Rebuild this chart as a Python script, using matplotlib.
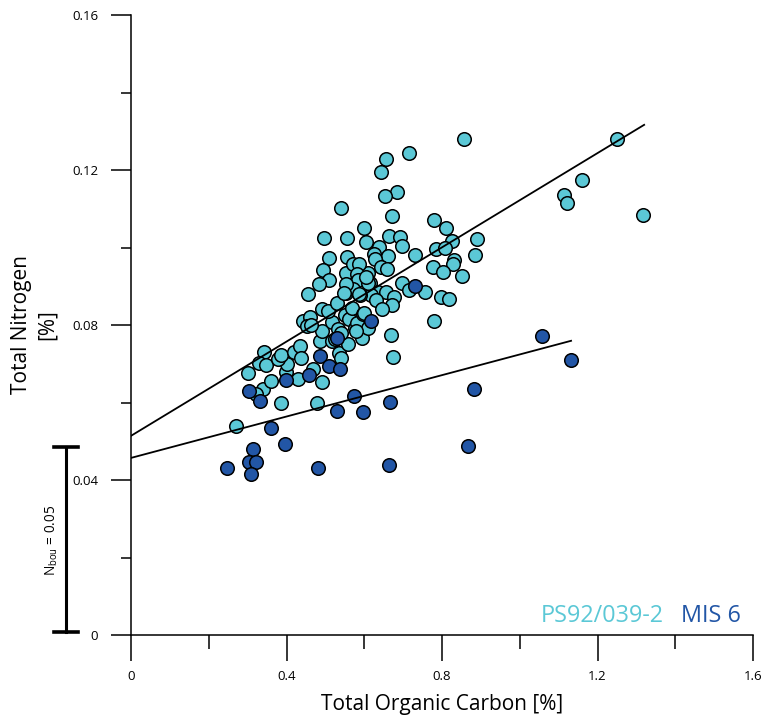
import numpy as np
import matplotlib
matplotlib.use('Agg')
from matplotlib import pyplot as plt
from matplotlib.ticker import MultipleLocator

# PS92/039-2 samples (TOC %, TN %)
ps92_toc = [1.250, 1.160, 1.114, 1.121, 1.317, 0.857, 0.715, 0.656, 0.643, 0.684,
            0.653, 0.671, 0.779, 0.810, 0.540, 0.600, 0.496, 0.556, 0.604, 0.664,
            0.692, 0.697, 0.638, 0.890, 0.826, 0.785, 0.808, 0.885, 0.731, 0.625,
            0.661, 0.628, 0.831, 0.828, 0.777, 0.803, 0.643, 0.659, 0.851, 0.610,
            0.615, 0.697, 0.715, 0.756, 0.797, 0.818, 0.635, 0.656, 0.677, 0.617,
            0.509, 0.556, 0.494, 0.509, 0.484, 0.455, 0.553, 0.571, 0.586, 0.581,
            0.584, 0.553, 0.571, 0.589, 0.609, 0.604, 0.553, 0.630, 0.671, 0.646,
            0.779, 0.669, 0.674, 0.270, 0.386, 0.478, 0.301, 0.340, 0.322, 0.360,
            0.430, 0.399, 0.401, 0.468, 0.491, 0.535, 0.540, 0.558, 0.342, 0.329,
            0.347, 0.378, 0.386, 0.419, 0.435, 0.437, 0.486, 0.491, 0.517, 0.442,
            0.460, 0.453, 0.491, 0.507, 0.530, 0.548, 0.550, 0.561, 0.569, 0.576,
            0.594, 0.581, 0.597, 0.532, 0.540, 0.517, 0.463, 0.610, 0.525, 0.579,
            0.586, 0.599]
ps92_tn = [0.1280, 0.1174, 0.1135, 0.1115, 0.1084, 0.1280, 0.1244, 0.1228, 0.1195, 0.1143,
           0.1133, 0.1081, 0.1071, 0.1050, 0.1102, 0.1050, 0.1025, 0.1025, 0.1014, 0.1030,
           0.1027, 0.1004, 0.1001, 0.1022, 0.1017, 0.0996, 0.0999, 0.0981, 0.0981, 0.0983,
           0.0978, 0.0970, 0.0968, 0.0957, 0.0950, 0.0937, 0.0950, 0.0945, 0.0926, 0.0934,
           0.0908, 0.0908, 0.0890, 0.0885, 0.0872, 0.0867, 0.0885, 0.0885, 0.0872, 0.0877,
           0.0973, 0.0975, 0.0942, 0.0916, 0.0906, 0.0880, 0.0934, 0.0957, 0.0957, 0.0932,
           0.0916, 0.0883, 0.0893, 0.0877, 0.0908, 0.0924, 0.0906, 0.0865, 0.0852, 0.0841,
           0.0810, 0.0774, 0.0717, 0.0539, 0.0599, 0.0599, 0.0676, 0.0635, 0.0622, 0.0655,
           0.0660, 0.0679, 0.0699, 0.0686, 0.0653, 0.0728, 0.0715, 0.0751, 0.0730, 0.0702,
           0.0697, 0.0712, 0.0723, 0.0730, 0.0746, 0.0715, 0.0759, 0.0785, 0.0808, 0.0810,
           0.0821, 0.0797, 0.0841, 0.0836, 0.0857, 0.0883, 0.0826, 0.0815, 0.0844, 0.0792,
           0.0766, 0.0805, 0.0828, 0.0790, 0.0779, 0.0759, 0.0800, 0.0792, 0.0764, 0.0785,
           0.0880, 0.0831]

# MIS 6 samples
mis6_toc = [1.057, 1.132, 0.617, 0.731, 0.882, 0.666, 0.597, 0.867, 0.664, 0.360,
            0.396, 0.314, 0.303, 0.322, 0.247, 0.309, 0.481, 0.530, 0.574, 0.304,
            0.332, 0.399, 0.458, 0.486, 0.509, 0.538, 0.530]
mis6_tn = [0.0772, 0.0710, 0.0810, 0.0901, 0.0635, 0.0601, 0.0575, 0.0488, 0.0439, 0.0534,
           0.0493, 0.0480, 0.0447, 0.0447, 0.0431, 0.0416, 0.0431, 0.0578, 0.0617, 0.0630,
           0.0604, 0.0658, 0.0671, 0.0720, 0.0694, 0.0686, 0.0766]

# regression lines: intercept, slope, x range
fit_ps92 = [0.0514, 0.0608, 0.0, 1.32]
fit_mis6 = [0.0457, 0.0267, 0.0, 1.132]

# axis ticks
x_ticks = [0, 0.4, 0.8, 1.2, 1.6]
x_ticklabels = ['0', '0.4', '0.8', '1.2', '1.6']
y_ticks = [0, 0.04, 0.08, 0.12, 0.16]
y_ticklabels = ['0', '0.04', '0.08', '0.12', '0.16']

# N_bou scale bar (y range in %)
nbou_bar = [0.0008, 0.0485]

cyan = '#5BC8D6'
blue = '#2256A6'
plt.rcParams['font.family'] = ['Open Sans', 'DejaVu Sans']

fig = plt.figure(figsize=(7.63, 7.28), dpi=100)
ax = fig.add_axes([131/763, 93/728, 622/763, 620/728])

ax.scatter(ps92_toc, ps92_tn, s=95, color=cyan, edgecolor='black', linewidth=1.1, zorder=2)
ax.scatter(mis6_toc, mis6_tn, s=95, color=blue, edgecolor='black', linewidth=1.1, zorder=3)

for a, b, x0, x1 in [fit_ps92, fit_mis6]:
    xs = np.array([x0, x1])
    ax.plot(xs, a + b * xs, color='black', lw=1.3, zorder=4)

ax.set_xlim(0, 1.6)
ax.set_ylim(0, 0.16)
ax.spines['top'].set_visible(False)
ax.spines['right'].set_visible(False)
ax.spines['left'].set_linewidth(1.1)
ax.spines['bottom'].set_linewidth(1.1)

ax.set_xticks(x_ticks)
ax.set_xticklabels(x_ticklabels)
ax.set_yticks(y_ticks)
ax.set_yticklabels(y_ticklabels)
ax.xaxis.set_minor_locator(MultipleLocator(0.2))
ax.yaxis.set_minor_locator(MultipleLocator(0.02))
ax.tick_params(axis='x', which='major', length=19, width=1.1, pad=6, labelsize=9.5)
ax.tick_params(axis='x', which='minor', length=10, width=1.1)
ax.tick_params(axis='y', which='major', length=14.5, width=1.1, pad=9, labelsize=9.5)
ax.tick_params(axis='y', which='minor', length=7.5, width=1.1)

ax.set_xlabel('Total Organic Carbon [%]', fontsize=15)
ax.xaxis.set_label_coords(0.5, -0.095)
ax.set_ylabel('Total Nitrogen\n[%]', fontsize=15, linespacing=1.3)
ax.yaxis.set_label_coords(-0.118, 0.5)

# scale bar for N_bou
bx = -0.167
ax.plot([bx, bx], nbou_bar, color='black', lw=2.2, clip_on=False)
for yb in nbou_bar:
    ax.plot([bx - 0.03, bx + 0.03], [yb, yb], color='black', lw=2.6, clip_on=False)
ax.text(-0.205, 0.0245, r'N$_\mathregular{bou}$ = 0.05', rotation=90, fontsize=9.8,
        ha='center', va='center')

ax.text(0.659, 0.03, 'PS92/039-2', color=cyan, fontsize=16.8, transform=ax.transAxes,
        ha='left', va='center')
ax.text(0.884, 0.03, 'MIS 6', color=blue, fontsize=16.8, transform=ax.transAxes,
        ha='left', va='center')

plt.savefig('out.png', dpi=100)
